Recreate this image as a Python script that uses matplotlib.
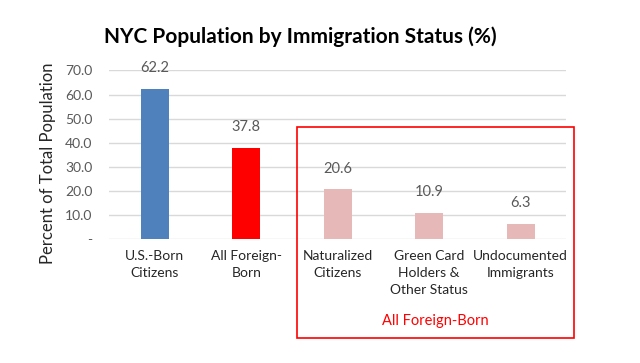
import matplotlib.pyplot as plt
from matplotlib.patches import Rectangle
import numpy as np

plt.rcParams['font.family'] = ['Lato', 'DejaVu Sans']

categories = ["U.S.-Born\nCitizens", "All Foreign-\nBorn", "Naturalized\nCitizens",
              "Green Card\nHolders &\nOther Status", "Undocumented\nImmigrants"]
values = [62.2, 37.8, 20.6, 10.9, 6.3]
colors = ["#4F81BD", "#FF0000", "#E6B9B8", "#E6B9B8", "#E6B9B8"]
yticks = [0, 10, 20, 30, 40, 50, 60, 70]
ytick_labels = ["-", "10.0", "20.0", "30.0", "40.0", "50.0", "60.0", "70.0"]

fig = plt.figure(figsize=(6.4, 3.63), dpi=100)
ax = fig.add_axes([0.1703, 0.3416, 0.7148, 0.4642])

x = np.arange(len(categories))
ax.bar(x, values, width=0.31, color=colors, zorder=3)
for xi, v in zip(x, values):
    ax.annotate(f"{v:.1f}", (xi, v), xytext=(0, 10), textcoords="offset points",
                ha="center", va="bottom", fontsize=10.5, color="#595959")

ax.set_xlim(-0.5, len(categories) - 0.5)
ax.set_ylim(0, 70)
ax.set_yticks(yticks)
ax.set_yticklabels(ytick_labels, color="#595959", fontsize=10)
ax.set_xticks(x)
ax.set_xticklabels(categories, fontsize=10, color="#262626", linespacing=1.5)
ax.tick_params(axis="both", length=0)
ax.tick_params(axis="x", pad=8)
ax.tick_params(axis="y", pad=12)
ax.grid(axis="y", color="#D9D9D9", linewidth=1, zorder=0)
for s in ax.spines.values():
    s.set_visible(False)
ax.set_ylabel("Percent of Total Population", fontsize=12, color="#262626")
ax.yaxis.set_label_coords(-0.116, 0.45)

fig.text(0.469, 0.9, "NYC Population by Immigration Status (%)", ha="center", va="center",
         fontsize=15, fontweight="bold", color="black")

box = Rectangle((297 / 640, 1 - 338 / 363), (574 - 297) / 640, (338 - 127) / 363,
                transform=fig.transFigure, fill=False, edgecolor="#FF0000", linewidth=1.2)
fig.add_artist(box)
fig.text(435 / 640, 1 - 321 / 363, "All Foreign-Born", ha="center", va="center",
         fontsize=10.5, color="#FF0000")

fig.savefig("out.png", dpi=100)
